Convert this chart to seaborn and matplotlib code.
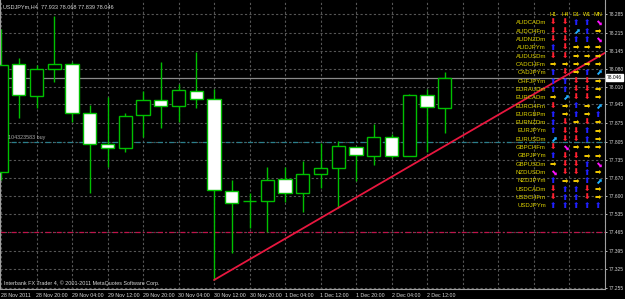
import matplotlib
matplotlib.use("Agg")
import matplotlib.pyplot as plt
import matplotlib.transforms as mtransforms
import numpy as np
import pandas as pd
import seaborn as sns

# ---------------- data ----------------
bar_index = list(range(26))
opens  = [77.691, 78.097, 77.977, 78.078, 78.097, 77.913, 77.796, 77.781, 77.905, 77.962,
          77.939, 77.996, 77.966, 77.620, 77.582, 77.582, 77.665, 77.612, 77.684, 77.706,
          77.785, 77.751, 77.823, 77.751, 77.981, 77.933]
highs  = [78.229, 78.120, 78.093, 78.277, 78.105, 77.943, 77.973, 77.913, 77.996, 78.105,
          78.022, 78.142, 78.003, 77.661, 77.612, 77.710, 77.710, 77.732, 77.800, 77.808,
          77.785, 77.872, 77.834, 77.984, 78.003, 78.068]
lows   = [77.661, 77.894, 77.932, 78.029, 77.879, 77.612, 77.710, 77.766, 77.823, 77.857,
          77.879, 77.932, 77.285, 77.387, 77.481, 77.466, 77.578, 77.541, 77.631, 77.556,
          77.657, 77.717, 77.744, 77.751, 77.766, 77.839]
closes = [78.093, 77.981, 78.078, 78.097, 77.913, 77.796, 77.781, 77.902, 77.962, 77.939,
          77.999, 77.966, 77.623, 77.575, 77.582, 77.661, 77.612, 77.684, 77.706, 77.789,
          77.755, 77.823, 77.751, 77.981, 77.935, 78.046]

time_labels = ["28 Nov 2011", "28 Nov 20:00", "29 Nov 04:00", "29 Nov 12:00", "29 Nov 20:00",
               "30 Nov 04:00", "30 Nov 12:00", "30 Nov 20:00", "1 Dec 04:00", "1 Dec 12:00",
               "1 Dec 20:00", "2 Dec 04:00", "2 Dec 12:00"]
price_labels = ["78.285", "78.215", "78.145", "78.080", "78.010", "77.945", "77.875", "77.805",
                "77.735", "77.670", "77.600", "77.535", "77.465", "77.395", "77.325", "77.255"]

bid_price = 78.046
order_price = 77.804
stop_price = 77.465
trend_x = [12, 25]
trend_y = [77.285, 77.789]

title_text = "USDJPYm,H4  77.933 78.068 77.839 78.046"
order_text = "104323583 buy"
copyright_text = "Interbank FX Trader 4, \u00a9 2001-2011 MetaQuotes Software Corp."

panel_periods = ["H1", "H4", "D1", "W1", "MN"]
panel_symbols = ["AUDCADm", "AUDCHFm", "AUDNZDm", "AUDJPYm", "AUDUSDm", "CADCHFm", "CADJPYm",
                 "CHFJPYm", "EURAUDm", "EURCADm", "EURCHFm", "EURGBPm", "EURNZDm", "EURJPYm",
                 "EURUSDm", "GBPCHFm", "GBPJPYm", "GBPUSDm", "NZDUSDm", "NZDJPYm", "USDCADm",
                 "USDCHFm", "USDJPYm"]
panel_signals = [
    "D D U U DR", "D D UR U R", "D D U U DR", "U D R R R", "D D R R R",
    "R R R R R", "U D R U UR", "U U D D R", "U U D D R", "R UR D D R",
    "D R U R UR", "U R U R U", "U D R D R", "U D D U R", "UR D D U R",
    "D DR R R R", "U D D R R", "R D D U DR", "DR D D U R", "U R R U UR",
    "D U U D R", "D U U D R", "U U U U U",
]

# ---------------- style ----------------
sns.set_theme(style="dark", rc={
    "axes.facecolor": "#000000", "figure.facecolor": "#000000",
    "axes.edgecolor": "#a0a0a0", "text.color": "#d8d8d8",
    "xtick.color": "#d8d8d8", "ytick.color": "#d8d8d8",
})
plt.rcParams["font.family"] = ["Liberation Sans", "DejaVu Sans"]

W, H = 625, 299
fig = plt.figure(figsize=(W / 100, H / 100), dpi=100)
ax = fig.add_axes([0, 10 / H, 605 / W, 289 / H])
ax.set_facecolor("#000000")

x_min, x_max = -1 / 17.75, 604 / 17.75
y_min, y_max = 77.2513, 78.3376
ax.set_xlim(x_min, x_max)
ax.set_ylim(y_min, y_max)

green = "#00c000"
df = pd.DataFrame({"x": bar_index, "o": opens, "h": highs, "l": lows, "c": closes})
df["bottom"] = df[["o", "c"]].min(axis=1)
df["height"] = (df["c"] - df["o"]).abs()
df["fill"] = np.where(df["c"] >= df["o"], "#000000", "#ffffff")

# grid lines
grid_kw = dict(color="#565656", lw=0.8, dashes=(2, 2), zorder=0)
price_vals = [float(p) for p in price_labels]
for p in price_vals:
    ax.axhline(p, **grid_kw)
grid_x = np.arange(0, x_max, 2)
for gx in grid_x:
    ax.axvline(gx, **grid_kw)

# horizontal lines
ax.axhline(bid_price, color="#8a8a8a", lw=0.9, zorder=1)
ax.axhline(order_price, color="#2a7f8c", lw=0.9, dashes=(4, 2, 1, 2), zorder=1)
ax.axhline(stop_price, color="#c0124a", lw=0.9, dashes=(4, 2, 1, 2), zorder=1)

# candles
ax.vlines(df["x"], df["l"], df["h"], color=green, lw=1.0, zorder=2)
ax.bar(df["x"], df["height"], bottom=df["bottom"], width=0.74, color=df["fill"],
       edgecolor=green, linewidth=1.0, zorder=3)

# trend line (ray to the right edge)
slope = (trend_y[1] - trend_y[0]) / (trend_x[1] - trend_x[0])
tl = pd.DataFrame({"x": [trend_x[0], x_max], "y": [trend_y[0], trend_y[0] + slope * (x_max - trend_x[0])]})
sns.lineplot(data=tl, x="x", y="y", ax=ax, color="#e8173f", lw=1.3, zorder=4)
ax.set_xlabel("")
ax.set_ylabel("")

# axes ticks
ax.yaxis.tick_right()
ax.set_yticks(price_vals)
ax.set_yticklabels(price_labels)
ax.tick_params(axis="y", length=1.5, width=0.6, pad=1.2, labelsize=3.5, colors="#d8d8d8")
ax.set_xticks(grid_x)
ax.set_xticklabels(time_labels + [""] * (len(grid_x) - len(time_labels)), ha="left")
ax.tick_params(axis="x", length=2, width=0.6, pad=1, labelsize=3.8, colors="#d8d8d8")
for lab in ax.get_xticklabels():
    lab.set_horizontalalignment("left")

for s in ["left", "right", "bottom"]:
    ax.spines[s].set_visible(True)
    ax.spines[s].set_color("#a0a0a0")
    ax.spines[s].set_linewidth(0.8)
ax.spines["top"].set_visible(False)

# bid label box
trans = mtransforms.blended_transform_factory(ax.transAxes, ax.transData)
ax.text(1.003, bid_price, f"{bid_price:.3f}", transform=trans, fontsize=3.5, color="#000000",
        va="center", ha="left", zorder=6,
        bbox=dict(boxstyle="square,pad=0.2", fc="#ffffff", ec="#ffffff"), clip_on=False)

def fx(px):
    return px / W

def fy(py):
    return 1 - py / H

fig.text(fx(3), fy(7), title_text, fontsize=4.0, color="#d8d8d8", va="center", ha="left")
fig.text(fx(4), fy(283), copyright_text, fontsize=3.9, color="#d8d8d8", va="center", ha="left")
fig.text(fx(8), fy(138), order_text, fontsize=3.9, color="#a8a8a8", va="center", ha="left")

# signal panel
glyph = {"U": "\u2b06", "D": "\u2b07", "R": "\u27a1", "UR": "\u2b08", "DR": "\u2b0a"}
gcolor = {"U": "#2020ff", "D": "#ff2030", "R": "#f0c800", "UR": "#20b0ff", "DR": "#ff10ff"}
col_x = [553, 565, 576, 587, 598]
for j, per in enumerate(panel_periods):
    fig.text(fx(col_x[j]), fy(14), per, fontsize=4.0, color="#e8d800", ha="center", va="center")
for i, sym in enumerate(panel_symbols):
    ry = 22.7 + 8.33 * i
    fig.text(fx(546), fy(ry), sym, fontsize=4.3, color="#e0d400", ha="right", va="center")
    for j, code in enumerate(panel_signals[i].split()):
        fig.text(fx(col_x[j]), fy(ry), glyph[code], fontsize=5.6, color=gcolor[code],
                 ha="center", va="center", family="DejaVu Sans", fontweight="bold")

fig.savefig("out.png", dpi=100, facecolor="#000000")
